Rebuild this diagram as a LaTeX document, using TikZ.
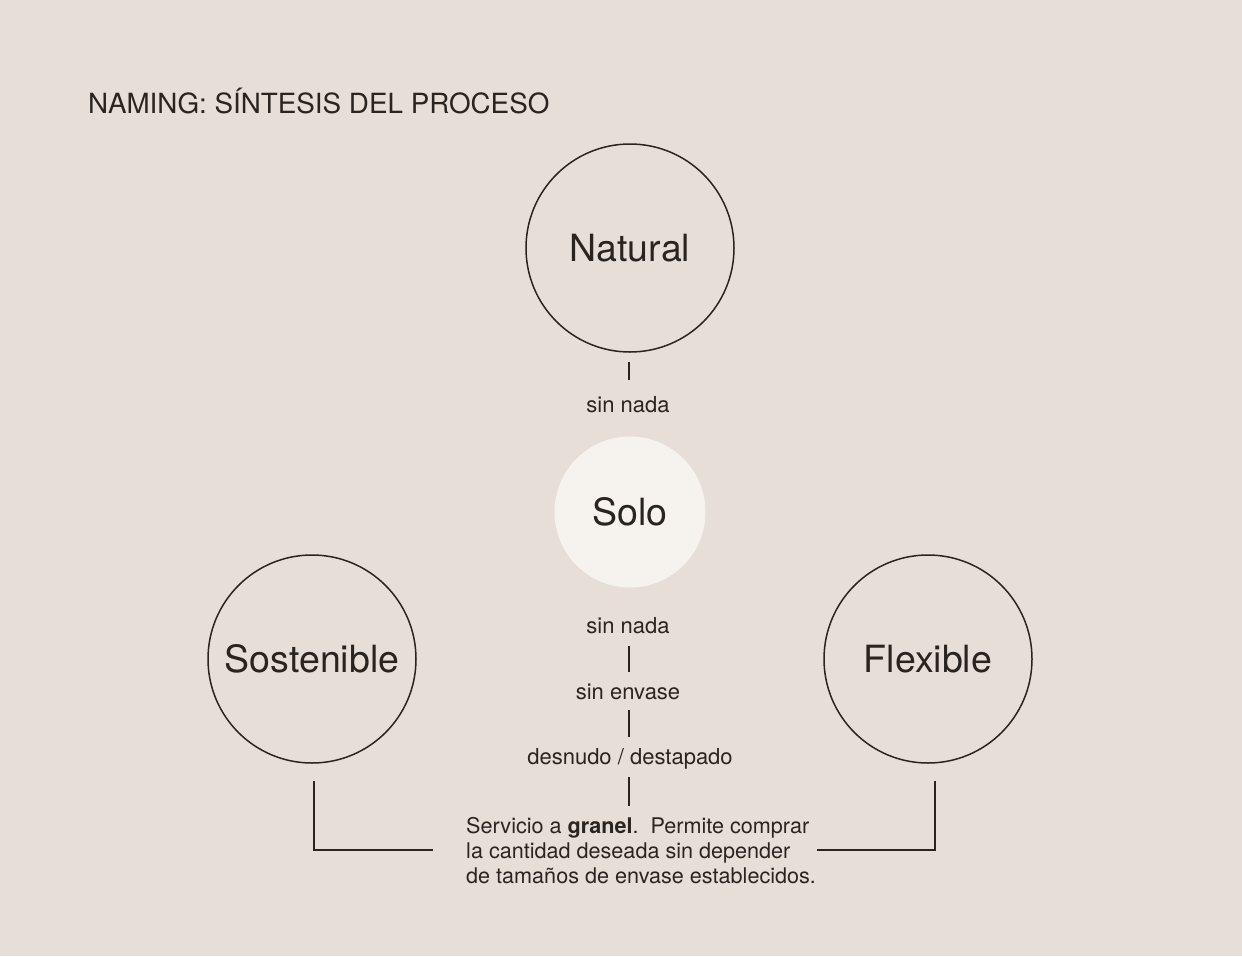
\documentclass[tikz,border=0pt]{standalone}
\usepackage{fontspec}
\setmainfont{TeX Gyre Heros}
\definecolor{bg}{HTML}{E8DED8}
\definecolor{solofill}{HTML}{F6F2EE}
\definecolor{ink}{HTML}{2A2420}
\begin{document}
\begin{tikzpicture}[x=1pt,y=-1pt,
  ring/.style={circle,draw=ink,line width=1.5pt,minimum size=208pt,inner sep=0pt},
  bigtext/.style={text=ink,font=\fontsize{37.5}{40}\selectfont},
  small/.style={text=ink,font=\fontsize{22}{25}\selectfont,inner sep=0pt,anchor=base},
  link/.style={draw=ink,line width=1.8pt}]
\fill[bg] (0,0) rectangle (1242,956);
\useasboundingbox (0,0) rectangle (1242,956);
\node[text=ink,font=\fontsize{27.8}{32}\selectfont,anchor=base west,inner sep=0pt] (title) at (88,113) {NAMING: SÍNTESIS DEL PROCESO};
\node[ring] (natural) at (630,248) {};
\node[ring] (sostenible) at (312,659) {};
\node[ring] (flexible) at (928,659) {};
\node[circle,fill=solofill,minimum size=151pt,inner sep=0pt] (solo) at (630,512) {};
\node[bigtext,anchor=base,inner sep=0pt] (naturalt) at (630,261) {Natural};
\node[bigtext,anchor=base,inner sep=0pt] (solot) at (630,525) {Solo};
\node[bigtext,anchor=base,inner sep=0pt] (sostenit) at (312,672) {Sostenible};
\node[bigtext,anchor=base,inner sep=0pt] (flexit) at (928,672) {Flexible};
\node[small] (l1) at (628,412.5) {sin nada};
\node[small] (l2) at (628,633) {sin nada};
\node[small] (l3) at (628,699) {sin envase};
\node[small] (l4) at (630,764) {desnudo / destapado};
\node[text=ink,font=\fontsize{21.6}{25}\selectfont,anchor=base west,inner sep=0pt,align=left] (para) at (466,883)
  {Servicio a \textbf{granel}.\ \ Permite comprar\\la cantidad deseada sin depender\\de tamaños de envase establecidos.};
\coordinate (a1) at (629,362); \coordinate (a2) at (629,380);
\coordinate (b1) at (629,646); \coordinate (b2) at (629,672);
\coordinate (c1) at (629,710); \coordinate (c2) at (629,737);
\coordinate (d1) at (629,777); \coordinate (d2) at (629,806);
\coordinate (s1) at (314,781); \coordinate (s2) at (433,850);
\coordinate (f1) at (935,781); \coordinate (f2) at (817,850);
\draw[link] (a1) -- (a2);
\draw[link] (b1) -- (b2);
\draw[link] (c1) -- (c2);
\draw[link] (d1) -- (d2);
\draw[link] (s1) |- (s2);
\draw[link] (f1) |- (f2);
\end{tikzpicture}
\end{document}
